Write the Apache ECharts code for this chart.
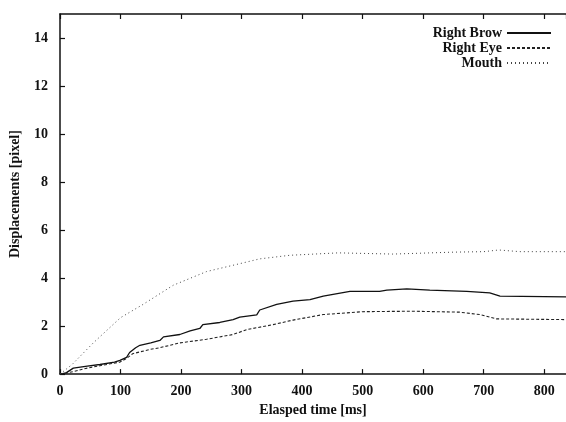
<!DOCTYPE html>
<html><head><meta charset="utf-8">
<script src="https://cdn.jsdelivr.net/npm/echarts@6/dist/echarts.min.js"></script>
<style>html,body{margin:0;padding:0;background:#fff}#c{width:566px;height:422px}</style>
</head><body><div id="c"></div>
<script>
var seriesNames = ['Right Brow', 'Right Eye', 'Mouth'];
var browMs  = [0, 10, 22, 45, 66, 90, 99, 110, 115, 125, 132, 150, 165, 171, 198, 215, 231, 236, 264, 286, 297, 325, 330, 358, 385, 413, 435, 479, 528, 540, 573, 611, 672, 710, 727, 836];
var browVal = [0, 0.05, 0.25, 0.33, 0.4, 0.5, 0.57, 0.7, 0.9, 1.1, 1.2, 1.3, 1.4, 1.55, 1.65, 1.8, 1.9, 2.06, 2.15, 2.27, 2.37, 2.47, 2.67, 2.9, 3.04, 3.1, 3.25, 3.45, 3.45, 3.5, 3.55, 3.5, 3.45, 3.38, 3.25, 3.22];
var eyeMs   = [0, 22, 45, 66, 99, 110, 120, 149, 165, 198, 242, 286, 308, 352, 385, 435, 500, 583, 660, 694, 721, 836];
var eyeVal  = [0, 0.1, 0.25, 0.35, 0.5, 0.65, 0.85, 1.03, 1.1, 1.3, 1.45, 1.65, 1.85, 2.06, 2.25, 2.48, 2.6, 2.62, 2.58, 2.48, 2.3, 2.27];
var mouthMs  = [0, 20, 55, 100, 137, 187, 242, 297, 330, 380, 460, 550, 650, 700, 725, 760, 836];
var mouthVal = [0, 0.4, 1.3, 2.35, 2.9, 3.7, 4.27, 4.6, 4.8, 4.95, 5.05, 5.0, 5.08, 5.1, 5.17, 5.1, 5.1];
var xTicks = [0, 100, 200, 300, 400, 500, 600, 700, 800];
var yTicks = [0, 2, 4, 6, 8, 10, 12, 14];

function pairs(xs, ys) { return xs.map(function (x, i) { return [x, ys[i]]; }); }

var font = '"Liberation Serif", "DejaVu Serif", serif';
var lbl = { fontFamily: font, fontWeight: 'bold', fontSize: 14, color: '#111' };
var axLine = { onZero: false, lineStyle: { color: '#111', width: 1.5 } };
var tick = { inside: true, length: 5, lineStyle: { color: '#111', width: 1.2 } };

function legendFor(name, top) {
  return {
    data: [name], right: 9, top: top, orient: 'vertical', align: 'right',
    itemWidth: 44, itemHeight: 14, itemGap: 0,
    itemStyle: { opacity: 0 },
    textStyle: { fontFamily: font, fontWeight: 'bold', fontSize: 14, color: '#111' }
  };
}

var chart = echarts.init(document.getElementById('c'), null, { renderer: 'canvas' });
chart.setOption({
  animation: false,
  backgroundColor: '#fff',
  grid: { left: 60, right: 0, top: 14, bottom: 45 },
  legend: [legendFor(seriesNames[0], 21), legendFor(seriesNames[1], 36), legendFor(seriesNames[2], 51)],
  xAxis: [{
    type: 'value', min: 0, max: 836, interval: 100,
    name: 'Elasped time [ms]', nameLocation: 'middle', nameGap: 26,
    nameTextStyle: lbl,
    axisLine: axLine, axisTick: tick, splitLine: { show: false },
    axisLabel: Object.assign({ showMaxLabel: false, margin: 10, formatter: function (v) { return xTicks.indexOf(v) >= 0 ? String(v) : ''; } }, lbl)
  }, {
    type: 'value', position: 'top', min: 0, max: 836, interval: 100,
    axisLine: axLine, axisTick: tick, splitLine: { show: false }, axisLabel: { show: false }
  }],
  yAxis: [{
    type: 'value', min: 0, max: 15, interval: 2,
    name: 'Displacements [pixel]', nameLocation: 'middle', nameGap: 38,
    nameTextStyle: lbl,
    axisLine: axLine, axisTick: tick, splitLine: { show: false },
    axisLabel: Object.assign({ showMaxLabel: false, margin: 12, formatter: function (v) { return yTicks.indexOf(v) >= 0 ? String(v) : ''; } }, lbl)
  }],
  series: [{
    name: seriesNames[0], type: 'line', showSymbol: false, symbol: 'none',
    data: pairs(browMs, browVal),
    lineStyle: { color: '#111', width: 1.3, type: 'solid' }, itemStyle: { color: '#111' }
  }, {
    name: seriesNames[1], type: 'line', showSymbol: false, symbol: 'none',
    data: pairs(eyeMs, eyeVal),
    lineStyle: { color: '#222', width: 1.1, type: [3, 2] }, itemStyle: { color: '#222' }
  }, {
    name: seriesNames[2], type: 'line', showSymbol: false, symbol: 'none',
    data: pairs(mouthMs, mouthVal),
    lineStyle: { color: '#444', width: 1, type: [1, 3] }, itemStyle: { color: '#444' }
  }]
});
</script></body></html>
